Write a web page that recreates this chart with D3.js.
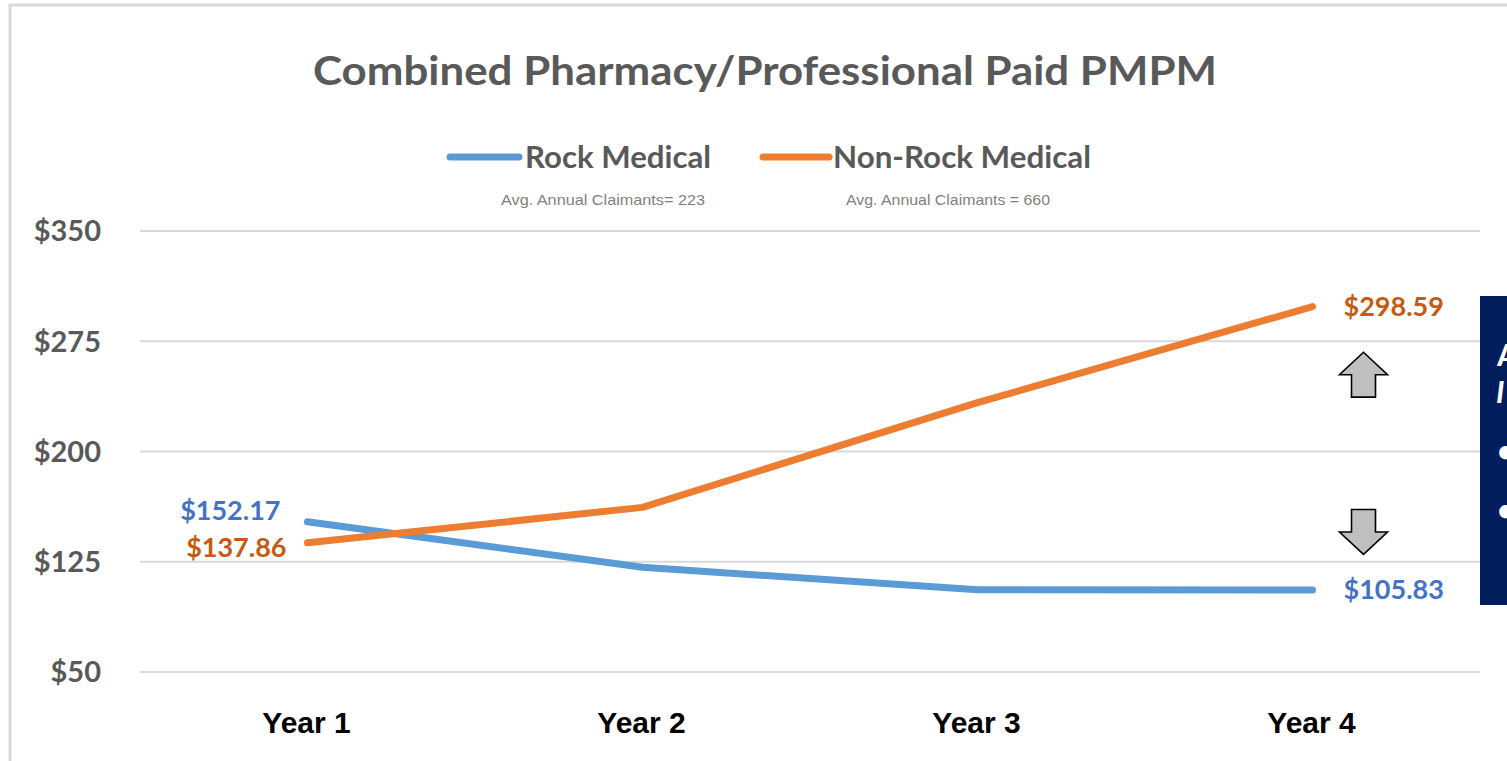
<!DOCTYPE html>
<html>
<head>
<meta charset="utf-8">
<script src="https://cdn.jsdelivr.net/npm/d3@7.9.0/dist/d3.min.js"></script>
<style>
  html, body { margin: 0; padding: 0; background: #fff; overflow: hidden; }
  svg { display: block; }
</style>
</head>
<body>
<svg id="chart" width="1507" height="761"></svg>
<script>
// Chart data
const years = ['Year 1', 'Year 2', 'Year 3', 'Year 4'];
const rockValues = [152.17, 121.3, 105.9, 105.83];
const nonRockValues = [137.86, 162.0, 233.2, 298.59];
const yTicks = [50, 125, 200, 275, 350];
const seriesNames = ['Rock Medical', 'Non-Rock Medical'];
const claimantNotes = ['Avg. Annual Claimants= 223', 'Avg. Annual Claimants = 660'];

const blue = '#5b9bd5';
const orange = '#ed7d31';
const blueText = '#4472c4';
const orangeText = '#c55a11';
const gray = '#595959';
const calibri = 'Lato, "Open Sans", sans-serif';
const arial = '"Liberation Sans", Arial, sans-serif';

const svg = d3.select('#chart');

// outer frame of the chart object
svg.append('path')
    .attr('d', 'M10,761 L10,5 L1507,5')
    .attr('fill', 'none')
    .attr('stroke', '#d9d9d9')
    .attr('stroke-width', 3);

const x = d3.scaleBand().domain(years).range([140, 1480]);
const y = d3.scaleLinear().domain([50, 350]).range([672, 231]);
const cx = d => x(d) + x.bandwidth() / 2;

// gridlines
svg.append('g')
    .selectAll('line')
    .data(yTicks)
    .join('line')
    .attr('x1', 140)
    .attr('x2', 1480)
    .attr('y1', d => y(d))
    .attr('y2', d => y(d))
    .attr('stroke', '#d9d9d9')
    .attr('stroke-width', 2);

// y axis labels
svg.append('g')
    .selectAll('text')
    .data(yTicks)
    .join('text')
    .attr('x', 101)
    .attr('y', d => y(d))
    .attr('dy', '0.36em')
    .attr('text-anchor', 'end')
    .attr('font-family', calibri)
    .attr('font-weight', 700)
    .attr('font-size', 29)
    .attr('fill', gray)
    .text(d => '$' + d);

// x axis labels
svg.append('g')
    .selectAll('text')
    .data(years)
    .join('text')
    .attr('x', d => cx(d) - 1)
    .attr('y', 733)
    .attr('text-anchor', 'middle')
    .attr('font-family', arial)
    .attr('font-weight', 700)
    .attr('font-size', 30)
    .attr('fill', '#000')
    .text(d => d);

// title
svg.append('text')
    .attr('x', 765)
    .attr('y', 85)
    .attr('text-anchor', 'middle')
    .attr('font-family', calibri)
    .attr('font-weight', 700)
    .attr('font-size', 40)
    .attr('fill', gray)
    .attr('textLength', 904)
    .attr('lengthAdjust', 'spacingAndGlyphs')
    .text('Combined Pharmacy/Professional Paid PMPM');

// lines
const line = d3.line()
    .x((d, i) => cx(years[i]))
    .y(d => y(d));

[[rockValues, blue], [nonRockValues, orange]].forEach(([vals, col]) => {
    svg.append('path')
        .datum(vals)
        .attr('d', line)
        .attr('fill', 'none')
        .attr('stroke', col)
        .attr('stroke-width', 7)
        .attr('stroke-linecap', 'round')
        .attr('stroke-linejoin', 'round');
});

// legend
const legendItems = [
    { name: seriesNames[0], color: blue, x0: 450, x1: 519, tx: 525, w: 186, note: claimantNotes[0], nx: 603 },
    { name: seriesNames[1], color: orange, x0: 763, x1: 829, tx: 833, w: 258, note: claimantNotes[1], nx: 948 }
];
legendItems.forEach(d => {
    svg.append('line')
        .attr('x1', d.x0).attr('x2', d.x1)
        .attr('y1', 157).attr('y2', 157)
        .attr('stroke', d.color)
        .attr('stroke-width', 7)
        .attr('stroke-linecap', 'round');
    svg.append('text')
        .attr('x', d.tx)
        .attr('y', 168)
        .attr('font-family', calibri)
        .attr('font-weight', 700)
        .attr('font-size', 31)
        .attr('fill', gray)
        .attr('textLength', d.w)
        .attr('lengthAdjust', 'spacingAndGlyphs')
        .text(d.name);
    svg.append('text')
        .attr('x', d.nx)
        .attr('y', 205)
        .attr('text-anchor', 'middle')
        .attr('font-family', arial)
        .attr('font-size', 15)
        .attr('fill', '#7f7f7f')
        .attr('textLength', 204)
        .attr('lengthAdjust', 'spacingAndGlyphs')
        .text(d.note);
});

// data labels at first and last points
const fmt = d3.format('$.2f');
const labels = [
    { v: rockValues[0], i: 0, color: blueText, dx: -27, dy: -2, anchor: 'end' },
    { v: nonRockValues[0], i: 0, color: orangeText, dx: -21, dy: 14, anchor: 'end' },
    { v: nonRockValues[3], i: 3, color: orangeText, dx: 31, dy: 9, anchor: 'start' },
    { v: rockValues[3], i: 3, color: blueText, dx: 31, dy: 9, anchor: 'start' }
];
svg.append('g')
    .selectAll('text')
    .data(labels)
    .join('text')
    .attr('x', d => cx(years[d.i]) + d.dx)
    .attr('y', d => y(d.v) + d.dy)
    .attr('text-anchor', d => d.anchor)
    .attr('font-family', calibri)
    .attr('font-weight', 700)
    .attr('font-size', 27)
    .attr('fill', d => d.color)
    .text(d => fmt(d.v));

// block arrows next to Year 4
const arrowX = cx('Year 4') + 51;
function blockArrow(top, bottom, up) {
    const hw = 24, sw = 12;
    const h = bottom - top, head = h * 0.5;
    let pts;
    if (up) {
        pts = [[0, top], [hw, top + head], [sw, top + head], [sw, bottom],
               [-sw, bottom], [-sw, top + head], [-hw, top + head]];
    } else {
        pts = [[0, bottom], [hw, bottom - head], [sw, bottom - head], [sw, top],
               [-sw, top], [-sw, bottom - head], [-hw, bottom - head]];
    }
    svg.append('path')
        .attr('d', 'M' + pts.map(p => [arrowX + p[0], p[1]].join(',')).join('L') + 'Z')
        .attr('fill', '#bfbfbf')
        .attr('stroke', '#000')
        .attr('stroke-width', 1.6);
}
blockArrow(y(267.5), y(237), true);
blockArrow(y(160.5), y(130), false);

// cropped text panel on the right edge
svg.append('rect')
    .attr('x', 1480).attr('y', 296)
    .attr('width', 40).attr('height', 309)
    .attr('fill', '#021d5c');
const panel = svg.append('g')
    .attr('font-family', calibri)
    .attr('font-weight', 700)
    .attr('fill', '#fff');
panel.append('text').attr('x', 1497).attr('y', 366).attr('font-size', 30).text('A');
panel.append('text').attr('x', 1496).attr('y', 403).attr('font-size', 30).attr('font-style', 'italic').text('I');
panel.append('text').attr('x', 1497).attr('y', 462).attr('font-size', 30).text('•');
panel.append('text').attr('x', 1497).attr('y', 521).attr('font-size', 30).text('•');
</script>
</body>
</html>
